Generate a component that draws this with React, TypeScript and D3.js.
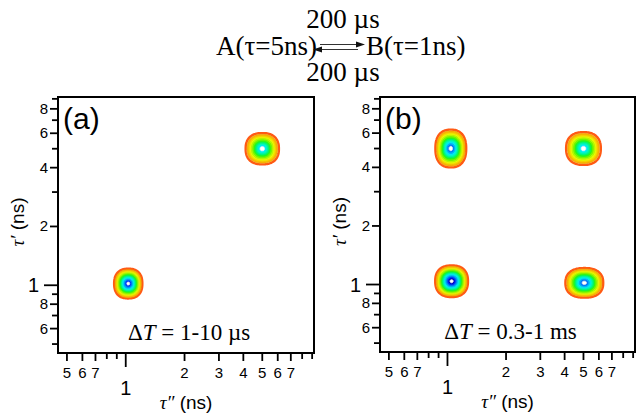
import React, { useMemo } from 'react';
import * as d3 from 'd3';

// axis range shared by both panels (ns, log scale)
const AXIS_DOMAIN = [0.45, 9.2];

const xTickValues = [0.5, 0.6, 0.7, 0.8, 0.9, 1, 2, 3, 4, 5, 6, 7, 8, 9];
const xTickLabels = ['5', '6', '7', '', '', '1', '2', '3', '4', '5', '6', '7', '', ''];
const yTickValues = [0.5, 0.6, 0.7, 0.8, 0.9, 1, 2, 3, 4, 5, 6, 7, 8, 9];
const yTickLabels = ['', '6', '', '8', '', '1', '2', '', '4', '', '6', '', '8', ''];

// peaks: tau'' (x), tau' (y), outer half-width in decades, number of colour levels
const panelAPeaks = [
  { tx: 1.03, ty: 1.02, wx: 0.072, wy: 0.076, depth: 13 },
  { tx: 5.0, ty: 5.0, wx: 0.085, wy: 0.08, depth: 10 },
];
const panelBPeaks = [
  { tx: 1.04, ty: 5.0, wx: 0.079, wy: 0.097, depth: 12 },
  { tx: 5.0, ty: 5.0, wx: 0.089, wy: 0.084, depth: 10 },
  { tx: 1.05, ty: 1.04, wx: 0.084, wy: 0.081, depth: 14 },
  { tx: 5.05, ty: 1.02, wx: 0.097, wy: 0.076, depth: 12 },
];

const panels = [
  { id: 'a', tag: '(a)', note: '1-10 µs', peaks: panelAPeaks },
  { id: 'b', tag: '(b)', note: '0.3-1 ms', peaks: panelBPeaks },
];

const ramp = [
  '#ffdcb4', '#ffb000', '#ffd400', '#f0ff00', '#b8ff00', '#70ff00', '#22ff22',
  '#00ff80', '#00ffc4', '#00f0ff', '#00b8ff', '#0078ff', '#0030ff', '#0000c8',
];

const SANS = '"Liberation Sans", Arial, sans-serif';
const SERIF = '"Liberation Serif", "Times New Roman", serif';

const GRID = 260;
const SHAPE = 2.4;
const OUTER = 0.1;

const Panel = ({ left, top, size, panel }) => {
  const x = d3.scaleLog().domain(AXIS_DOMAIN).range([left, left + size]);
  const y = d3.scaleLog().domain(AXIS_DOMAIN).range([top + size, top]);
  const lo = Math.log10(AXIS_DOMAIN[0]);
  const hi = Math.log10(AXIS_DOMAIN[1]);
  const span = hi - lo;
  const bottom = top + size;

  const blobs = useMemo(() => {
    const transform = d3.geoTransform({
      point(gx, gy) {
        this.stream.point(x(10 ** (lo + (gx / GRID) * span)), y(10 ** (hi - (gy / GRID) * span)));
      },
    });
    const path = d3.geoPath(transform);
    return panel.peaks.map((p) => {
      const values = new Float64Array(GRID * GRID);
      const cx = Math.log10(p.tx);
      const cy = Math.log10(p.ty);
      for (let j = 0; j < GRID; j++) {
        const ly = hi - ((j + 0.5) / GRID) * span;
        const v = Math.abs((ly - cy) / p.wy) ** SHAPE;
        for (let i = 0; i < GRID; i++) {
          const lx = lo + ((i + 0.5) / GRID) * span;
          const u = Math.abs((lx - cx) / p.wx) ** SHAPE;
          values[j * GRID + i] = OUTER ** (u + v);
        }
      }
      // evenly spaced rings in radius
      const levels = d3.range(p.depth + 1).map((k) => OUTER ** ((1 - k / (p.depth + 1.6)) ** SHAPE));
      const cs = d3.contours().size([GRID, GRID]).thresholds(levels)(Array.from(values));
      return cs.map((c, k) => ({
        d: path(c),
        fill: k < p.depth ? ramp[k] : '#ffffff',
        outer: k === 0,
      }));
    });
  }, [panel, left, top, size]);

  const tickLen = (lab, v) => (v === 1 ? 14 : lab ? 8 : 6);

  return (
    <g>
      {blobs.map((rings, i) => (
        <g key={i}>
          {rings.map((r, k) => (
            <path
              key={k}
              d={r.d}
              fill={r.fill}
              stroke={r.outer ? '#ff5a14' : d3.color(r.fill).darker(0.25).formatHex()}
              strokeWidth={r.outer ? 2.4 : 0.7}
            />
          ))}
        </g>
      ))}
      <rect x={left} y={top} width={size} height={size} fill="none" stroke="#000" strokeWidth={2} />

      {/* y axis */}
      {yTickValues.map((v, i) => {
        const lab = yTickLabels[i];
        const yy = y(v);
        return (
          <g key={'y' + i}>
            <line x1={left} x2={left - tickLen(lab, v)} y1={yy} y2={yy} stroke="#000" strokeWidth={1.8} />
            {lab && (
              <text
                x={v === 1 ? left - 19 : left - 10}
                y={yy + (v === 1 ? 7 : 5)}
                textAnchor="end"
                fontFamily={SANS}
                fontSize={v === 1 ? 20 : 15}
              >
                {lab}
              </text>
            )}
          </g>
        );
      })}

      {/* x axis */}
      {xTickValues.map((v, i) => {
        const lab = xTickLabels[i];
        const xx = x(v);
        return (
          <g key={'x' + i}>
            <line x1={xx} x2={xx} y1={bottom} y2={bottom + tickLen(lab, v)} stroke="#000" strokeWidth={1.8} />
            {lab && (
              <text
                x={xx}
                y={v === 1 ? bottom + 42 : bottom + 25}
                textAnchor="middle"
                fontFamily={SANS}
                fontSize={v === 1 ? 20 : 15}
              >
                {lab}
              </text>
            )}
          </g>
        );
      })}

      <text x={left + size / 2} y={bottom + 56} textAnchor="middle" fontFamily={SANS} fontSize={19}>
        <tspan fontFamily={SERIF} fontStyle="italic">τ″</tspan> (ns)
      </text>
      <text
        transform={`translate(${left - 34},${top + size / 2 - 3}) rotate(-90)`}
        textAnchor="middle"
        fontFamily={SANS}
        fontSize={19}
      >
        <tspan fontFamily={SERIF} fontStyle="italic">τ′</tspan> (ns)
      </text>

      <text x={left + 5} y={top + 32} fontFamily={SANS} fontSize={30}>
        {panel.tag}
      </text>
      <text x={left + size / 2 + 3} y={bottom - 13} textAnchor="middle" fontFamily={SERIF} fontSize={23}>
        Δ<tspan fontStyle="italic">T</tspan> = {panel.note}
      </text>
    </g>
  );
};

const Header = () => (
  <g fontFamily={SERIF} fontSize={27}>
    <text x={343} y={28} textAnchor="middle">200 µs</text>
    <text x={317} y={55} textAnchor="end">A(τ=5ns)</text>
    <text x={366} y={55}>B(τ=1ns)</text>
    <text x={343} y={81} textAnchor="middle">200 µs</text>
    <line x1={320} x2={360} y1={44.5} y2={44.5} stroke="#333" strokeWidth={1} />
    <path d="M365,44.5 L356,41.5 L356,47.5 Z" fill="#111" />
    <line x1={318} x2={358} y1={49.5} y2={49.5} stroke="#333" strokeWidth={1} />
    <path d="M313,49.5 L322,46.5 L322,52.5 Z" fill="#111" />
  </g>
);

export default function App() {
  const W = 636;
  const H = 414;
  return (
    <svg
      width={W}
      height={H}
      viewBox={`0 0 ${W} ${H}`}
      style={{ position: 'absolute', left: 0, top: 0, background: '#fff' }}
    >
      <rect width={W} height={H} fill="#fff" />
      <Header />
      <Panel left={58} top={97} size={256} panel={panels[0]} />
      <Panel left={380} top={97} size={255} panel={panels[1]} />
    </svg>
  );
}
